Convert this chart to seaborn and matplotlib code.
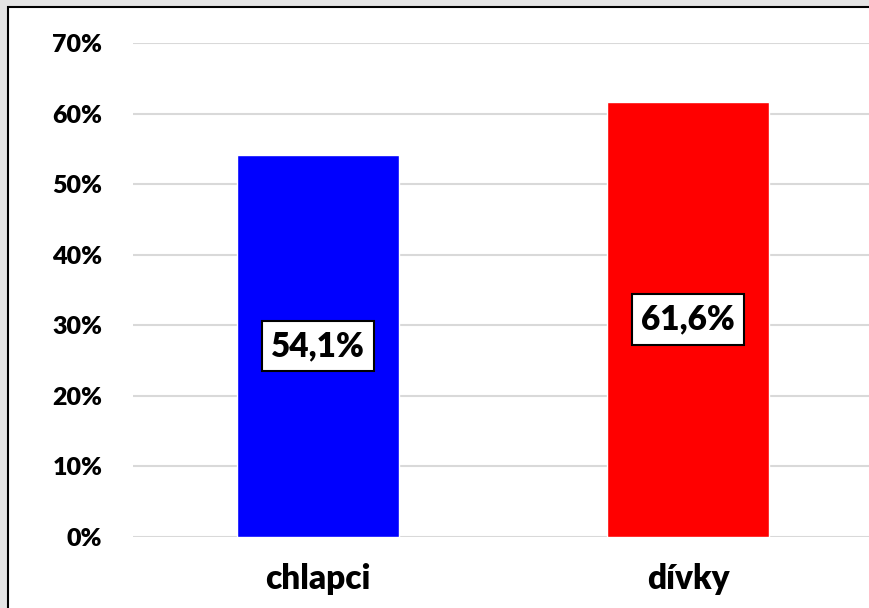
import numpy as np
import pandas as pd
import seaborn as sns
import matplotlib.pyplot as plt
from matplotlib.patches import Rectangle
from matplotlib.ticker import FuncFormatter

#data
groups = ["chlapci", "dívky"]
shares = [0.541, 0.616]
bar_colors = ["#0000FF", "#FF0000"]
value_labels = ["54,1%", "61,6%"]
y_ticks = [0, 0.1, 0.2, 0.3, 0.4, 0.5, 0.6, 0.7]

df = pd.DataFrame({"group": groups, "share": shares})

sns.set_style("white")
plt.rcParams['font.family'] = ['Lato', 'DejaVu Sans']
plt.rcParams['text.color'] = 'black'
plt.rcParams['xtick.color'] = 'black'
plt.rcParams['ytick.color'] = 'black'

W, H = 870, 608
fig = plt.figure(figsize=(W / 100, H / 100), dpi=100, facecolor="#e4e4e4")

#white chart area with black border (cropped at right/bottom)
fig.patches.append(Rectangle((8 / W, -0.05), 1.0, (H - 7) / H + 0.05,
                             transform=fig.transFigure, facecolor="white",
                             edgecolor="black", linewidth=1.5, zorder=-10))

ax = fig.add_axes([133 / W, (H - 537) / H, 740 / W, (537 - 43) / H])
ax.set_facecolor("none")

sns.barplot(data=df, x="group", y="share", hue="group", palette=bar_colors,
            width=0.44, saturation=1, legend=False, ax=ax, zorder=3)

ax.set_ylim(0, 0.7)
ax.set_xlim(-0.5, 1.5)
ax.set_yticks(y_ticks)
ax.yaxis.set_major_formatter(FuncFormatter(lambda v, p: f"{v*100:.0f}%"))
ax.yaxis.grid(True, color="#d9d9d9", linewidth=1.5, zorder=0)
ax.set_axisbelow(True)
for s in ax.spines.values():
    s.set_visible(False)
ax.tick_params(axis="y", length=0, pad=22, labelsize=18, labelcolor="black")
ax.tick_params(axis="x", length=0, pad=19, labelsize=24, labelcolor="black")
for lab in ax.get_yticklabels() + ax.get_xticklabels():
    lab.set_fontweight("heavy")
ax.set_xlabel("")
ax.set_ylabel("")

#value labels in boxes at middle of bars
for i, (v, t) in enumerate(zip(shares, value_labels)):
    ax.text(i, v / 2, t, ha="center", va="center", fontsize=24, fontweight="heavy",
            color="black", zorder=5,
            bbox=dict(boxstyle="square,pad=0.28", facecolor="white",
                      edgecolor="black", linewidth=1.5))

plt.savefig("out.png", dpi=100, facecolor=fig.get_facecolor())
